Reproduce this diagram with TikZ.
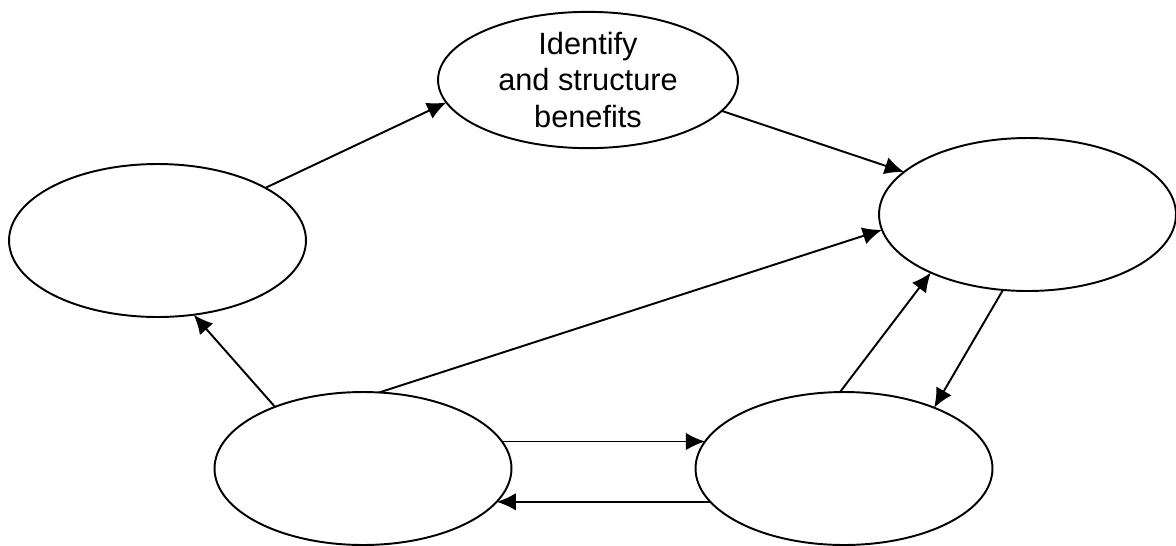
\documentclass[tikz,border=0pt]{standalone}
\usepackage{fontspec}
\setmainfont{Liberation Sans}
\usetikzlibrary{arrows.meta,shapes}
\tikzset{
    basic/.style = {draw, ellipse, line width=1.1pt, inner sep=0pt, outer sep=0pt},
    stage/.style = {basic, align=center, font=\fontsize{17.5}{21}\selectfont},
    blank/.style = {stage, minimum width=5.94cm, minimum height=3.06cm}
}

\begin{document}
\begin{tikzpicture}[x=0.02cm, y=-0.02cm,
	link/.style={->, draw, line width=1.1pt},
	>={Latex[length=11pt,width=10pt]}]
		\useasboundingbox (0,0) rectangle (1176,545);
		\node[stage, minimum width=6cm, minimum height=2.72cm] (benefits) at (588,80) {Identify\\and structure\\benefits};
		\begin{scope}[every node/.style={blank}]
			\node (lhs) at (157.5,240.5) {};
			\node (rhs) at (1027.5,214.5) {};
			\node (lowl) at (363,468.5) {};
			\node (lowr) at (844,468.5) {};
		\end{scope}
		\draw[link] (lhs.26) -- (benefits.189.5);
		\draw[link] (benefits.347.5) -- (rhs.161.7);
		\draw[link] (lowl.78.8) -- (rhs.186.7);
		\draw[link] (lowl.145.4) -- (lhs.296);
		\draw[link] (lowl.11) -- (lowr.169);
		\draw[link] (lowr.194) -- (lowl.346);
		\draw[link] (lowr.93) -- (rhs.211.7);
		\draw[link] (rhs.252.2) -- (lowr.34.4);
	\end{tikzpicture}
\end{document}
